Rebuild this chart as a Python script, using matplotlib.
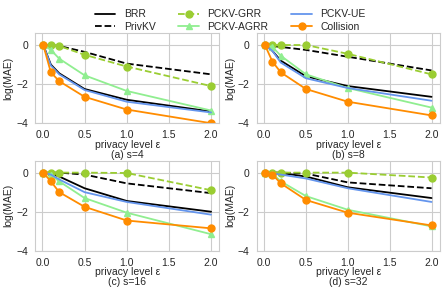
import numpy as np
import matplotlib
matplotlib.use("Agg")
import matplotlib.pyplot as plt
import seaborn as sns

sns.set_style("whitegrid")
plt.rcParams['font.family'] = ['Liberation Sans', 'DejaVu Sans']

eps = [0.01, 0.1, 0.2, 0.5, 1.0, 2.0]
titles = ['(a) s=4', '(b) s=8', '(c) s=16', '(d) s=32']

# log(MAE) for each s
brr = [[0, -1.0, -1.45, -2.25, -2.8, -3.4],
       [0, -0.3, -0.8, -1.6, -2.1, -2.65],
       [0, -0.05, -0.2, -0.8, -1.45, -2.0],
       [0, 0, -0.02, -0.2, -0.75, -1.3]]
privkv = [[0, 0, -0.05, -0.35, -0.95, -1.5],
          [0, -0.05, -0.1, -0.25, -0.6, -1.3],
          [0, 0, 0, -0.1, -0.55, -1.05],
          [0, 0, 0, -0.05, -0.5, -0.8]]
pckv_grr = [[0, 0, -0.05, -0.5, -1.1, -2.1],
            [0, 0, 0, 0, -0.45, -1.5],
            [0, 0, 0, 0, -0.02, -0.9],
            [0, 0, 0, 0, 0, -0.25]]
pckv_agrr = [[0, -0.25, -0.7, -1.55, -2.35, -3.35],
             [0, -0.1, -0.55, -1.5, -2.2, -3.2],
             [0, -0.1, -0.45, -1.3, -2.05, -3.15],
             [0, -0.05, -0.45, -1.2, -1.9, -2.75]]
pckv_ue = [[0, -1.05, -1.5, -2.3, -2.9, -3.45],
           [0, -0.3, -0.9, -1.7, -2.2, -2.85],
           [0, -0.1, -0.35, -1.0, -1.5, -2.15],
           [0, -0.05, -0.1, -0.3, -0.8, -1.5]]
collision = [[0, -1.4, -1.85, -2.65, -3.3, -4.0],
             [0, -0.85, -1.4, -2.25, -2.9, -3.6],
             [0, -0.45, -1.0, -1.75, -2.45, -2.85],
             [0, -0.1, -0.55, -1.4, -2.05, -2.7]]

fig = plt.figure(figsize=(4.47, 2.92), dpi=100)
pos = [[0.078, 0.578, 0.413, 0.308],
       [0.574, 0.578, 0.410, 0.308],
       [0.078, 0.141, 0.413, 0.308],
       [0.574, 0.141, 0.410, 0.308]]

for i in range(4):
    ax = fig.add_axes(pos[i])
    ax.plot(eps, brr[i], color='black', lw=1.3, label='BRR')
    ax.plot(eps, privkv[i], color='black', lw=1.3, ls='--', label='PrivKV')
    ax.plot(eps, pckv_grr[i], color='yellowgreen', lw=1.3, ls='--', marker='o', ms=5, label='PCKV-GRR')
    ax.plot(eps, pckv_agrr[i], color='lightgreen', lw=1.3, marker='^', ms=5, label='PCKV-AGRR')
    ax.plot(eps, pckv_ue[i], color='cornflowerblue', lw=1.3, label='PCKV-UE')
    ax.plot(eps, collision[i], color='darkorange', lw=1.3, marker='o', ms=5, label='Collision')
    ax.set_ylim(-4, 0.6)
    ax.set_yticks([0, -2, -4])
    ax.set_xticks([0.0, 0.5, 1.0, 1.5, 2.0])
    ax.tick_params(labelsize=7.5, pad=1.5)
    ax.set_xlabel('privacy level ε', fontsize=7.5, va='center')
    ax.xaxis.set_label_coords(0.5, -0.24)
    ax.set_ylabel('log(MAE)', fontsize=7.5, labelpad=2)
    ax.text(0.5, -0.35, titles[i], transform=ax.transAxes, fontsize=7.5,
            ha='center', va='center')
    if i == 0:
        handles, labels = ax.get_legend_handles_labels()

fig.legend(handles, labels, loc='upper center', ncol=3, frameon=False, fontsize=7.5,
           bbox_to_anchor=(0.515, 1.0), columnspacing=2.2, handlelength=2.0,
           labelspacing=0.25)

plt.savefig('out.png', dpi=100)
